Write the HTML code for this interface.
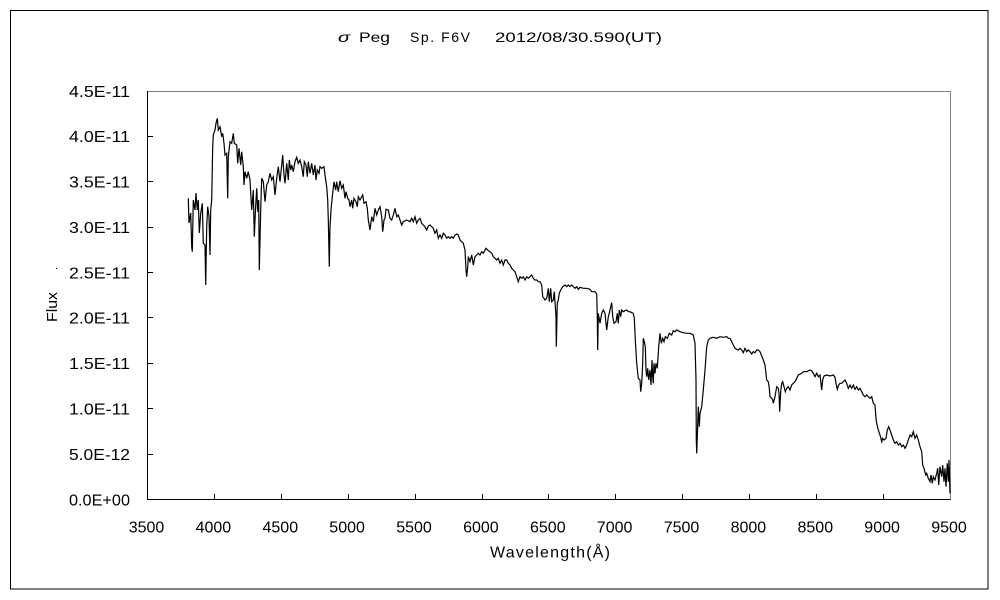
<!DOCTYPE html>
<html>
<head>
<meta charset="utf-8">
<style>
html,body{margin:0;padding:0;background:#fff;}
svg{display:block;}
text{font-family:"Liberation Sans","Noto Sans CJK JP",sans-serif;fill:#000;}
</style>
</head>
<body>
<svg width="1000" height="600" viewBox="0 0 1000 600" xmlns="http://www.w3.org/2000/svg">
<rect x="0" y="0" width="1000" height="600" fill="#fff"/>
<rect x="10.5" y="10.5" width="977.5" height="578.5" fill="none" stroke="#000" stroke-width="1"/>

<!-- title -->
<text x="338" y="42" font-size="14" textLength="12" lengthAdjust="spacingAndGlyphs" font-style="italic">σ</text>
<text x="359" y="42" font-size="14" textLength="31" lengthAdjust="spacingAndGlyphs">Peg</text>
<text x="410" y="42" font-size="14" textLength="60" lengthAdjust="spacing">Sp. F6V</text>
<text x="495" y="42" font-size="14" textLength="167" lengthAdjust="spacingAndGlyphs">2012/08/30.590(UT)</text>

<!-- plot frame -->
<line x1="147.5" y1="91.5" x2="950.5" y2="91.5" stroke="#808080" stroke-width="1"/>
<line x1="950.5" y1="91" x2="950.5" y2="500" stroke="#808080" stroke-width="1"/>
<line x1="147.5" y1="91" x2="147.5" y2="500" stroke="#000" stroke-width="1"/>
<line x1="147" y1="499.5" x2="950.5" y2="499.5" stroke="#000" stroke-width="1"/>

<!-- y ticks -->
<g stroke="#000" stroke-width="1">
<line x1="147.5" y1="454.5" x2="153" y2="454.5"/>
<line x1="147.5" y1="408.5" x2="153" y2="408.5"/>
<line x1="147.5" y1="363.5" x2="153" y2="363.5"/>
<line x1="147.5" y1="317.5" x2="153" y2="317.5"/>
<line x1="147.5" y1="272.5" x2="153" y2="272.5"/>
<line x1="147.5" y1="227.5" x2="153" y2="227.5"/>
<line x1="147.5" y1="181.5" x2="153" y2="181.5"/>
<line x1="147.5" y1="136.5" x2="153" y2="136.5"/>
</g>
<!-- x ticks -->
<g stroke="#000" stroke-width="1">
<line x1="214.5" y1="499.5" x2="214.5" y2="494"/>
<line x1="281.5" y1="499.5" x2="281.5" y2="494"/>
<line x1="348.5" y1="499.5" x2="348.5" y2="494"/>
<line x1="415.5" y1="499.5" x2="415.5" y2="494"/>
<line x1="482.5" y1="499.5" x2="482.5" y2="494"/>
<line x1="548.5" y1="499.5" x2="548.5" y2="494"/>
<line x1="615.5" y1="499.5" x2="615.5" y2="494"/>
<line x1="682.5" y1="499.5" x2="682.5" y2="494"/>
<line x1="749.5" y1="499.5" x2="749.5" y2="494"/>
<line x1="816.5" y1="499.5" x2="816.5" y2="494"/>
<line x1="883.5" y1="499.5" x2="883.5" y2="494"/>
</g>

<!-- y labels -->
<g font-size="16" text-anchor="end">
<text x="130" y="505.3" textLength="61" lengthAdjust="spacingAndGlyphs">0.0E+00</text>
<text x="130" y="459.9" textLength="61" lengthAdjust="spacingAndGlyphs">5.0E-12</text>
<text x="130" y="414.5" textLength="61" lengthAdjust="spacingAndGlyphs">1.0E-11</text>
<text x="130" y="369.1" textLength="61" lengthAdjust="spacingAndGlyphs">1.5E-11</text>
<text x="130" y="323.7" textLength="61" lengthAdjust="spacingAndGlyphs">2.0E-11</text>
<text x="130" y="278.3" textLength="61" lengthAdjust="spacingAndGlyphs">2.5E-11</text>
<text x="130" y="232.9" textLength="61" lengthAdjust="spacingAndGlyphs">3.0E-11</text>
<text x="130" y="187.5" textLength="61" lengthAdjust="spacingAndGlyphs">3.5E-11</text>
<text x="130" y="142.1" textLength="61" lengthAdjust="spacingAndGlyphs">4.0E-11</text>
<text x="130" y="96.8" textLength="61" lengthAdjust="spacingAndGlyphs">4.5E-11</text>
</g>

<!-- x labels -->
<g font-size="16" text-anchor="middle">
<text x="146.5" y="532.5">3500</text>
<text x="213.4" y="532.5">4000</text>
<text x="280.3" y="532.5">4500</text>
<text x="347.1" y="532.5">5000</text>
<text x="414" y="532.5">5500</text>
<text x="480.9" y="532.5">6000</text>
<text x="547.8" y="532.5">6500</text>
<text x="614.6" y="532.5">7000</text>
<text x="681.5" y="532.5">7500</text>
<text x="748.4" y="532.5">8000</text>
<text x="815.3" y="532.5">8500</text>
<text x="882.1" y="532.5">9000</text>
<text x="949" y="532.5">9500</text>
</g>

<text x="490" y="557.5" font-size="16" textLength="120" lengthAdjust="spacing">Wavelength(Å)</text>

<text x="0" y="0" font-size="15" textLength="30" lengthAdjust="spacingAndGlyphs" transform="translate(57,322) rotate(-90)">Flux</text>
<rect x="56" y="268" width="1" height="1" fill="#000"/>

<!-- spectrum -->
<polyline fill="none" stroke="#000" stroke-width="1.2" stroke-linejoin="miter" points="
188.3,198.3 189,223 190.7,213 191.7,246.7 192.3,251.7 193.3,200 195,210 196,193 197.3,210 198.3,200 199.3,233 200.7,213.3 202.3,203.3 203.3,243.3 205,245 205.7,285 206.7,226.7 207.7,206.7 209,216.7 210,255 210.7,210 211.7,200 212.7,146.7 213.3,135 215,130 216,123.3 217.3,118.3 218.3,130 220,126.7 221.7,136.7 222.7,133.3 224,143.3 225,155 226.7,153.3 227.7,198.3 228.3,156.7 230,141.7 231.7,143.3 233.3,133.3 234.3,143.3 236.7,145 237.7,163.3 239,148.3 240.7,165 241.7,151.7 243.3,166.7 244,185 245,171.7 246.7,178.3 248.3,171.7 250,180 251.7,210 253.3,190 254.3,236.7 255.3,213.3 256.7,188.3 257.7,211.7 258.7,200 259.3,270 260.7,210 261.7,178.3 263.3,181.7 265,201.7 266.7,185 268.3,181.7 270,173.3 271.7,180 273.3,176.7 275,195 276.7,178.3 278.3,166.7 280,181.7 281.7,165 282.7,155 284,175 285,183.3 286.7,163.3 288.3,180 289.3,160 290.7,170 291.7,165 293.3,171.7 295,161.7 296.7,157.3 298.3,163.3 300,160 301.7,166.7 303.3,176.7 304.3,161.7 306,165 307.3,176.7 308.3,161.7 310,173.3 311.7,163.3 313.3,175 315,165 316,180 317.3,170 319,173.3 320,166.7 321.7,168.3 324,166.7 325,175 326.7,186.7 327.7,200 328.3,220 329.3,266.7 330,226.7 331,210 332.3,196.7 334,181.7 335.7,190 336.7,181.7 338.3,191.7 340,180.7 341.7,188.3 343.3,185 345,198.3 346,191.7 347.7,198.3 349,200 350,206.7 351.7,200 352.7,208.3 354,198.3 356,201.7 357.3,206.7 358.3,196.7 360,200
362.7,195 364,203.3 366,201.7 367.3,208.3 368.3,220 370,230 371.7,216.7 373.3,221.7 375,208.3 376.7,215 378.3,210 380,206.7 381.7,216.7 382.7,231.7 384,220 385,218.3 386,209.3 388.3,210 390,218.3 391.7,220 393.3,215 395,208.3 396.7,216.7 398.3,215 400,220 401.7,225 403.3,221.7 406.7,220 410,221.7 411.7,218.3 413.3,221.7 415,216.7 416.7,223.3 418.3,220 420,218.3 421.7,223.3 423.3,225 425,226.7 426.7,230 428.3,226 430,225 431.7,226.7 433.3,228.3 435,233.3 436.7,230 438.3,238.3 440,235 441.7,238.3 443.3,233.3 445,235 446.7,238.3 448.3,236.7 450,238.3 451.7,236.7 453.3,238.3 455,235 456.7,234 458.3,235 460,240 461.7,241.7 463.3,243.3 465,250 466,270 466.7,276.7 467.7,266.7 468.3,256.7 470,261.7 471.7,255 473.3,265 475,256.7 476.7,255 478.3,253.3 480,255 481.7,251.7 483.3,253.3 486,248.3 488.3,250.7 490,251.7 491.7,253.3 493.3,256.7 495,258.3 496.7,260 498.3,258.3 500,263.3 501.7,260 503.3,265 505,260 506.7,260 508.3,263.3 510,265 511.7,268.3 513.3,270 515,271.7 516.7,276.7 518.3,281.7 520,276.7 521.7,278.3 523.3,276.7 525,280 526.7,276.7 528.3,278.3 530,276.7 531.7,275 533.3,278.3 535,280 536.7,280 538.3,281.7 540,281.7 541.7,285 542.7,296.7 544,298.3 545,300 546.7,298.3 548.3,288.3 549.3,301.7 550.7,288.3 551.7,301.7 553.3,300 554.3,291.7 555,301.7 556,316.7 556.3,346.7 557.3,303.3 558.3,300 559.3,293.3 560.7,290 562.7,286.7 565,285 566.7,286.7 568.3,285 570,286.7 571.7,285 573.3,286.7 575,288.3 576.7,286.7 578.3,289.3 580,287.3 583.3,288.3 586.7,288.3 590,289.3 591.7,291.7 595,291.7 596.7,294 597.3,316.7 597.7,350 598.3,313.3 600,323.3 601.7,313.3 603.3,310 605,313.3 606.7,330 608.3,316.7 609.3,313.3 610.7,306.7 611.7,302.7 612.7,316.7 614,323.3 616,321.7 617.3,313.3 618.3,323.3 619.3,310 620.7,316.7 621.7,310 623.3,311.7 625,310.7 626.7,310 628.3,311.7 630,311.7 631.7,312.7 633.3,313.3 634.3,318.3 635.3,340 636.7,363.3 638.3,378.3 640,380 640.7,391.7 641.7,383.3 642.7,363.3 643.3,338.3 644.3,341.7 645.3,346.7 646,370 646.7,376.7 647.7,368.3 648.7,380 650,370 651,385 652,360 652.7,376.7 653.3,383.3 654,363.3 655,373.3 656,363.3 657.3,368.3 658.7,346.7 660,333.3 661.3,343.3 662.7,338.3 664,341.7 665.3,336.7 667.3,338.3 669.3,333.3 671.7,335 673.3,330.7 675,331.7 676.7,330 680,331.7 683.3,332.7 686.7,333.3 690,333.3 693.3,335 695,343.3 696,380 696.3,440 696.7,453.3 697.3,436.7 698.3,406.7 699.3,426.7 700,413.3 701.7,406.7 703.3,390 705,370 706.7,346.7 708.3,340 710,338.3 713.3,337.3 716.7,338.3 720,336.7 723.3,337.3 726.7,336.7 728.3,338.3 730,338.3 731.7,341.7 733.3,345 735,348.3 736.7,349.3 738.3,350 740,348.3 741.7,350 743.3,352.7 745,348.3 746.7,351.7 748.3,350 750,351.7 751.7,354 753.3,351.7 755,352.7 756.7,350 758.3,350 760,351.7 763.3,360 765,365 766.7,380 768.3,381.7 769.3,388.3 770,396.7 771.7,398.3 772.7,400 773.3,403.3 775,396.7 776.7,386.7 778.3,388.3 779,393.3 779.7,411.7 780.7,391.7 781.7,383.3 782.7,381.7 784,386.7 785.3,391.7 786.7,388.3 788.3,386.7 790,390 791.7,385 793.3,383.3 795,381.7 796.7,378.3 798.3,375 801.7,373.3 803.3,371.7 806.7,371.7 810,370 811.7,370.7 813.3,373.3 815,376.7 816.7,373.3 818.3,376.7 820,375 821.7,390 822.7,380 824,376 826.7,375 830,376 833.3,375 835,377.3 836,383.3 837.3,389.3 838.7,385 840,383.3 841.7,383.3 843.3,381.7 845,380 846.7,383.3 848.3,388.3 850,385 851.7,388.3 853.3,385 855,389.3 856.7,386.7 858.3,390 860,388.3 861.7,391.7 863.3,395 865,396.7 866.7,395 868.3,396.7 870,398.3 871.7,396.7 873.3,403.3 875,405 876,418.3 876.7,423.3 878.3,430 880,435 881.7,441.7 882.7,438.3 884,440 886,438.3 887.3,430 888.7,426.7 890,430 891.7,435 893.3,440 895,443.3 896.7,441.7 898.3,445 900,443.3 901.7,446.7 903.3,445 905,448.3 906.7,445 908.3,440 910,435 911.7,436.7 913.3,431.7 915,438.3 916.7,435 918.3,440 920,446.7 921.7,451.7 922.7,465 924,468.3 925.7,475 926.7,473.3 928.3,478.3 930,481.7 931,475 932.3,483.3 933.3,476.7 935,480 936.7,473.3 937.7,468.3 938.7,485 940,466.7 941.7,476.7 942.7,465 944,481.7 945,468.3 946,486.7 947.3,463.3 948.3,481.7 949,460 950,493.3"/>
</svg>
</body>
</html>
